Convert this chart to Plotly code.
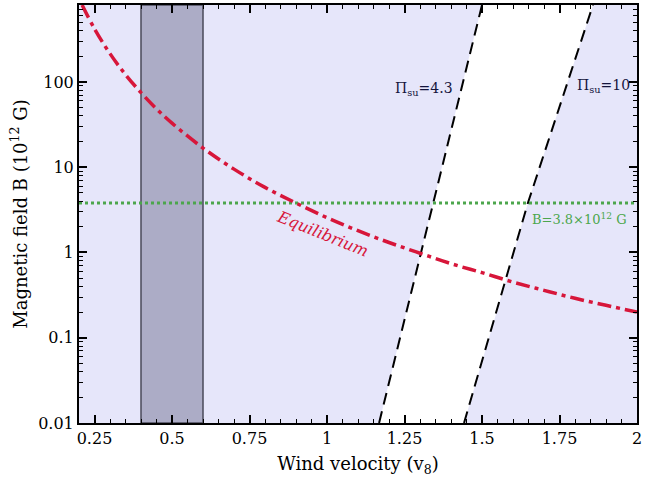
import plotly.graph_objects as go

# Equilibrium curve
eq_v = [0.21, 0.25, 0.3, 0.35, 0.4, 0.45, 0.5, 0.6, 0.7, 0.8, 0.9, 1.0, 1.1, 1.2, 1.3, 1.4, 1.5, 1.6, 1.7, 1.8, 1.9, 2.0]
eq_B = [800, 421, 215, 122, 75, 48.4, 32.9, 16.8, 9.5, 5.8, 3.8, 2.56, 1.80, 1.31, 0.98, 0.74, 0.58, 0.45, 0.36, 0.29, 0.24, 0.2]

# Pi_su boundary lines
pi43_v = [1.168, 1.303, 1.342, 1.5]
pi43_B = [0.01, 1.0, 3.8, 800]
pi10_v = [1.442, 1.577, 1.648, 1.858]
pi10_B = [0.01, 0.47, 3.8, 800]

# Shaded band and horizontal field value
band_v = [0.4, 0.6]
B_obs = 3.8

x_range = [0.2, 2.0]
y_range_log = [-2, 2.903]
x_ticks = [0.25, 0.5, 0.75, 1.0, 1.25, 1.5, 1.75, 2.0]
x_ticklabels = ["0.25", "0.5", "0.75", "1", "1.25", "1.5", "1.75", "2"]
y_ticks = [0.01, 0.1, 1, 10, 100]
y_ticklabels = ["0.01", "0.1", "1", "10", "100"]
y_minor = [m * 10 ** e for e in range(-2, 3) for m in range(2, 10)]

FONT = "DejaVu Serif"
RED = "#d7163a"
GREEN = "#4ca64c"
NAVY = "#14143c"

fig = go.Figure()

# white allowed region between the two lines
fig.add_trace(go.Scatter(
    x=pi43_v + pi10_v[::-1], y=pi43_B + pi10_B[::-1],
    fill="toself", fillcolor="white", mode="none", hoverinfo="skip", showlegend=False))

# gray band
fig.add_shape(type="rect", xref="x", yref="paper", x0=band_v[0], x1=band_v[1], y0=0, y1=1,
              fillcolor="#acacc6", line=dict(color="#4a4a5a", width=1.5), layer="below")

fig.add_trace(go.Scatter(x=pi43_v, y=pi43_B, mode="lines",
                         line=dict(color="black", width=2, dash="12px,7px"), showlegend=False))
fig.add_trace(go.Scatter(x=pi10_v, y=pi10_B, mode="lines",
                         line=dict(color="black", width=2, dash="12px,7px"), showlegend=False))

fig.add_trace(go.Scatter(x=[x_range[0], x_range[1]], y=[B_obs, B_obs], mode="lines",
                         line=dict(color=GREEN, width=3, dash="3px,3px"), showlegend=False))

fig.add_trace(go.Scatter(x=eq_v, y=eq_B, mode="lines", line_shape="spline",
                         line=dict(color=RED, width=3.5, dash="14px,5px,4px,5px"), showlegend=False))

# invisible trace to carry the minor-tick overlay axis
fig.add_trace(go.Scatter(x=[x_range[0]], y=[1], yaxis="y2", mode="markers",
                         marker=dict(opacity=0), hoverinfo="skip", showlegend=False))

fig.add_annotation(x=1.413, y=1.918, xref="x", yref="y", text="Π<sub>su</sub>=4.3",
                   showarrow=False, xanchor="right", yanchor="middle",
                   font=dict(family=FONT, size=14, color=NAVY))
fig.add_annotation(x=1.8, y=1.953, xref="x", yref="y", text="Π<sub>su</sub>=10",
                   showarrow=False, xanchor="left", yanchor="middle",
                   font=dict(family=FONT, size=14, color=NAVY))
fig.add_annotation(x=1.655, y=0.398, xref="x", yref="y", text="B=3.8×10<sup>12</sup> G",
                   showarrow=False, xanchor="left", yanchor="middle",
                   font=dict(family=FONT, size=13, color=GREEN))
fig.add_annotation(x=0.984, y=0.222, xref="x", yref="y", text="<i>Equilibrium</i>",
                   showarrow=False, textangle=22,
                   font=dict(family=FONT, size=16, color=RED))

fig.update_layout(
    width=665, height=494,
    margin=dict(l=79, r=28, t=3, b=71),
    paper_bgcolor="white", plot_bgcolor="#e6e6fa",
    font=dict(family=FONT, size=16, color="black"),
    xaxis=dict(range=x_range, tickvals=x_ticks, ticktext=x_ticklabels,
               ticks="inside", ticklen=8, tickwidth=1.5, tickcolor="black",
               showline=True, linecolor="black", linewidth=2, mirror="ticks",
               showgrid=False, zeroline=False,
               minor=dict(dtick=0.05, tick0=0, ticks="inside", ticklen=4, tickwidth=1, tickcolor="black", showgrid=False),
               title=dict(text="Wind velocity (v<sub>8</sub>)", font=dict(family=FONT, size=18), standoff=10),
               tickfont=dict(family=FONT, size=16)),
    yaxis=dict(type="log", range=y_range_log, tickvals=y_ticks, ticktext=y_ticklabels,
               ticks="inside", ticklen=8, tickwidth=1.5, tickcolor="black",
               showline=True, linecolor="black", linewidth=2, mirror="ticks",
               showgrid=False, zeroline=False,
               title=dict(text="Magnetic field B (10<sup>12</sup> G)", font=dict(family=FONT, size=18), standoff=6),
               tickfont=dict(family=FONT, size=16)),
    yaxis2=dict(type="log", range=y_range_log, overlaying="y", anchor="x", side="left",
                tickvals=y_minor, showticklabels=False,
                ticks="inside", ticklen=4, tickwidth=1, tickcolor="black",
                showline=False, mirror="ticks", showgrid=False, zeroline=False),
)

fig.write_html("out.html")
